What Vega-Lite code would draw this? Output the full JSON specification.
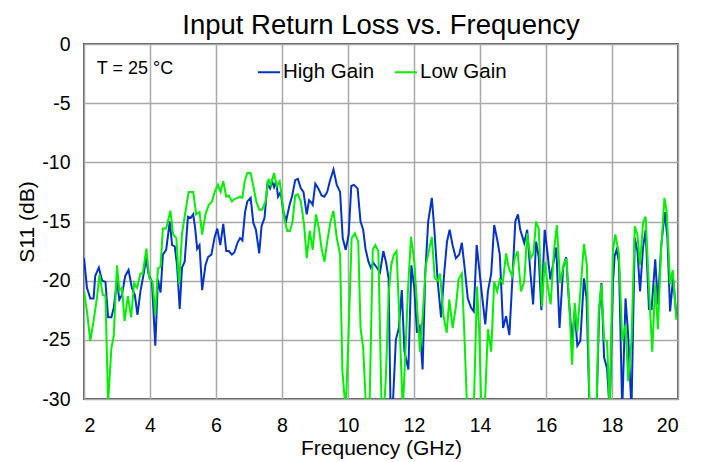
{
"$schema": "https://vega.github.io/schema/vega-lite/v6.json",
"width": 594, "height": 355,
"autosize": {"type": "none"},
"padding": {"left": 84, "top": 44, "right": 27, "bottom": 63},
"background": "white",
"title": {"text": "Input Return Loss vs. Frequency", "fontSize": 27.5, "fontWeight": "normal", "font": "Liberation Sans", "color": "black", "offset": -5},
"config": {
  "font": "Liberation Sans",
  "view": {"stroke": "#5a5a5a", "strokeWidth": 2},
  "axis": {"domain": false, "ticks": false, "labelFontSize": 19.5, "titleFontSize": 21, "titleFontWeight": "normal", "labelColor": "black", "titleColor": "black", "gridColor": "#a9a9a9", "gridWidth": 1.5, "gridOpacity": 1, "labelPadding": 14, "labelFont": "Liberation Sans", "titleFont": "Liberation Sans", "labelExpr": "'' + datum.value"}
},
"layer": [
{
"data": {"values": [
{"s":"High Gain","f":2.0,"v":-18.1},{"s":"High Gain","f":2.09,"v":-20.6},{"s":"High Gain","f":2.19,"v":-21.5},{"s":"High Gain","f":2.29,"v":-21.5},{"s":"High Gain","f":2.34,"v":-19.6},{"s":"High Gain","f":2.45,"v":-18.9},{"s":"High Gain","f":2.55,"v":-20.0},{"s":"High Gain","f":2.65,"v":-20.1},{"s":"High Gain","f":2.73,"v":-23.1},{"s":"High Gain","f":2.83,"v":-23.1},{"s":"High Gain","f":2.9,"v":-22.3},{"s":"High Gain","f":3.0,"v":-20.0},{"s":"High Gain","f":3.07,"v":-21.6},{"s":"High Gain","f":3.15,"v":-21.2},{"s":"High Gain","f":3.25,"v":-19.6},{"s":"High Gain","f":3.35,"v":-19.1},{"s":"High Gain","f":3.45,"v":-20.6},{"s":"High Gain","f":3.54,"v":-21.2},{"s":"High Gain","f":3.62,"v":-22.9},{"s":"High Gain","f":3.71,"v":-20.9},{"s":"High Gain","f":3.81,"v":-19.4},{"s":"High Gain","f":3.88,"v":-18.1},{"s":"High Gain","f":3.96,"v":-19.5},{"s":"High Gain","f":4.06,"v":-20.1},{"s":"High Gain","f":4.16,"v":-25.5},{"s":"High Gain","f":4.24,"v":-19.9},{"s":"High Gain","f":4.32,"v":-21.0},{"s":"High Gain","f":4.39,"v":-17.8},{"s":"High Gain","f":4.49,"v":-17.4},{"s":"High Gain","f":4.6,"v":-15.0},{"s":"High Gain","f":4.67,"v":-17.0},{"s":"High Gain","f":4.75,"v":-17.1},{"s":"High Gain","f":4.82,"v":-18.7},{"s":"High Gain","f":4.9,"v":-22.4},{"s":"High Gain","f":4.97,"v":-18.9},{"s":"High Gain","f":5.05,"v":-18.4},{"s":"High Gain","f":5.15,"v":-14.6},{"s":"High Gain","f":5.23,"v":-14.7},{"s":"High Gain","f":5.31,"v":-14.4},{"s":"High Gain","f":5.37,"v":-15.6},{"s":"High Gain","f":5.43,"v":-17.3},{"s":"High Gain","f":5.5,"v":-17.0},{"s":"High Gain","f":5.58,"v":-20.8},{"s":"High Gain","f":5.68,"v":-18.7},{"s":"High Gain","f":5.76,"v":-18.0},{"s":"High Gain","f":5.86,"v":-17.8},{"s":"High Gain","f":5.96,"v":-16.3},{"s":"High Gain","f":6.04,"v":-15.6},{"s":"High Gain","f":6.13,"v":-17.0},{"s":"High Gain","f":6.22,"v":-15.2},{"s":"High Gain","f":6.31,"v":-17.5},{"s":"High Gain","f":6.39,"v":-17.5},{"s":"High Gain","f":6.48,"v":-17.8},{"s":"High Gain","f":6.56,"v":-17.6},{"s":"High Gain","f":6.65,"v":-16.8},{"s":"High Gain","f":6.73,"v":-16.4},{"s":"High Gain","f":6.8,"v":-16.6},{"s":"High Gain","f":6.88,"v":-14.2},{"s":"High Gain","f":6.95,"v":-13.3},{"s":"High Gain","f":7.05,"v":-13.0},{"s":"High Gain","f":7.13,"v":-15.1},{"s":"High Gain","f":7.21,"v":-15.7},{"s":"High Gain","f":7.31,"v":-17.7},{"s":"High Gain","f":7.38,"v":-15.4},{"s":"High Gain","f":7.47,"v":-14.7},{"s":"High Gain","f":7.56,"v":-11.8},{"s":"High Gain","f":7.64,"v":-12.2},{"s":"High Gain","f":7.7,"v":-11.6},{"s":"High Gain","f":7.76,"v":-12.1},{"s":"High Gain","f":7.82,"v":-11.6},{"s":"High Gain","f":7.88,"v":-12.9},{"s":"High Gain","f":7.96,"v":-12.5},{"s":"High Gain","f":8.04,"v":-14.2},{"s":"High Gain","f":8.13,"v":-14.9},{"s":"High Gain","f":8.22,"v":-13.7},{"s":"High Gain","f":8.31,"v":-12.8},{"s":"High Gain","f":8.4,"v":-11.5},{"s":"High Gain","f":8.48,"v":-11.4},{"s":"High Gain","f":8.57,"v":-12.2},{"s":"High Gain","f":8.65,"v":-12.5},{"s":"High Gain","f":8.75,"v":-14.4},{"s":"High Gain","f":8.82,"v":-13.2},{"s":"High Gain","f":8.89,"v":-13.4},{"s":"High Gain","f":8.93,"v":-13.6},{"s":"High Gain","f":9.01,"v":-11.8},{"s":"High Gain","f":9.1,"v":-12.2},{"s":"High Gain","f":9.2,"v":-12.8},{"s":"High Gain","f":9.28,"v":-12.9},{"s":"High Gain","f":9.37,"v":-12.5},{"s":"High Gain","f":9.45,"v":-11.6},{"s":"High Gain","f":9.56,"v":-10.6},{"s":"High Gain","f":9.66,"v":-11.9},{"s":"High Gain","f":9.76,"v":-12.5},{"s":"High Gain","f":9.84,"v":-16.4},{"s":"High Gain","f":9.93,"v":-17.4},{"s":"High Gain","f":10.02,"v":-16.1},{"s":"High Gain","f":10.1,"v":-12.0},{"s":"High Gain","f":10.18,"v":-11.9},{"s":"High Gain","f":10.29,"v":-12.2},{"s":"High Gain","f":10.38,"v":-15.0},{"s":"High Gain","f":10.46,"v":-15.7},{"s":"High Gain","f":10.53,"v":-17.3},{"s":"High Gain","f":10.62,"v":-18.4},{"s":"High Gain","f":10.69,"v":-18.9},{"s":"High Gain","f":10.77,"v":-18.5},{"s":"High Gain","f":10.85,"v":-18.8},{"s":"High Gain","f":10.97,"v":-19.3},{"s":"High Gain","f":11.07,"v":-17.5},{"s":"High Gain","f":11.15,"v":-18.4},{"s":"High Gain","f":11.23,"v":-19.8},{"s":"High Gain","f":11.29,"v":-31},{"s":"High Gain","f":11.35,"v":-31},{"s":"High Gain","f":11.45,"v":-25.0},{"s":"High Gain","f":11.54,"v":-24.0},{"s":"High Gain","f":11.63,"v":-20.8},{"s":"High Gain","f":11.71,"v":-26.0},{"s":"High Gain","f":11.83,"v":-27.5},{"s":"High Gain","f":11.92,"v":-18.7},{"s":"High Gain","f":12.01,"v":-20.6},{"s":"High Gain","f":12.09,"v":-24.4},{"s":"High Gain","f":12.17,"v":-23.7},{"s":"High Gain","f":12.26,"v":-27.5},{"s":"High Gain","f":12.34,"v":-19.5},{"s":"High Gain","f":12.43,"v":-15.0},{"s":"High Gain","f":12.54,"v":-13.0},{"s":"High Gain","f":12.62,"v":-15.8},{"s":"High Gain","f":12.72,"v":-20.1},{"s":"High Gain","f":12.82,"v":-23.1},{"s":"High Gain","f":12.92,"v":-19.2},{"s":"High Gain","f":13.0,"v":-16.7},{"s":"High Gain","f":13.08,"v":-15.7},{"s":"High Gain","f":13.17,"v":-17.0},{"s":"High Gain","f":13.27,"v":-18.1},{"s":"High Gain","f":13.37,"v":-17.8},{"s":"High Gain","f":13.45,"v":-16.8},{"s":"High Gain","f":13.53,"v":-18.8},{"s":"High Gain","f":13.63,"v":-21.5},{"s":"High Gain","f":13.73,"v":-22.3},{"s":"High Gain","f":13.81,"v":-22.6},{"s":"High Gain","f":13.9,"v":-17.0},{"s":"High Gain","f":13.98,"v":-19.1},{"s":"High Gain","f":14.06,"v":-21.2},{"s":"High Gain","f":14.16,"v":-23.7},{"s":"High Gain","f":14.24,"v":-20.9},{"s":"High Gain","f":14.34,"v":-19.4},{"s":"High Gain","f":14.43,"v":-15.3},{"s":"High Gain","f":14.52,"v":-16.5},{"s":"High Gain","f":14.6,"v":-17.8},{"s":"High Gain","f":14.7,"v":-24.0},{"s":"High Gain","f":14.79,"v":-23.0},{"s":"High Gain","f":14.89,"v":-24.6},{"s":"High Gain","f":14.99,"v":-19.4},{"s":"High Gain","f":15.07,"v":-15.0},{"s":"High Gain","f":15.15,"v":-14.4},{"s":"High Gain","f":15.22,"v":-15.7},{"s":"High Gain","f":15.34,"v":-16.8},{"s":"High Gain","f":15.43,"v":-15.7},{"s":"High Gain","f":15.52,"v":-19.1},{"s":"High Gain","f":15.61,"v":-22.0},{"s":"High Gain","f":15.7,"v":-16.7},{"s":"High Gain","f":15.78,"v":-18.0},{"s":"High Gain","f":15.86,"v":-22.5},{"s":"High Gain","f":15.96,"v":-15.7},{"s":"High Gain","f":16.04,"v":-17.5},{"s":"High Gain","f":16.13,"v":-19.9},{"s":"High Gain","f":16.21,"v":-18.7},{"s":"High Gain","f":16.31,"v":-17.2},{"s":"High Gain","f":16.41,"v":-24.0},{"s":"High Gain","f":16.52,"v":-18.9},{"s":"High Gain","f":16.61,"v":-18.0},{"s":"High Gain","f":16.69,"v":-21.5},{"s":"High Gain","f":16.79,"v":-25.1},{"s":"High Gain","f":16.87,"v":-22.6},{"s":"High Gain","f":16.95,"v":-25.5},{"s":"High Gain","f":17.04,"v":-25.1},{"s":"High Gain","f":17.15,"v":-19.8},{"s":"High Gain","f":17.23,"v":-21.5},{"s":"High Gain","f":17.32,"v":-31},{"s":"High Gain","f":17.42,"v":-31},{"s":"High Gain","f":17.53,"v":-31},{"s":"High Gain","f":17.61,"v":-22.6},{"s":"High Gain","f":17.68,"v":-20.2},{"s":"High Gain","f":17.76,"v":-26.5},{"s":"High Gain","f":17.85,"v":-27.4},{"s":"High Gain","f":17.93,"v":-31},{"s":"High Gain","f":18.03,"v":-20.1},{"s":"High Gain","f":18.08,"v":-17.9},{"s":"High Gain","f":18.14,"v":-17.4},{"s":"High Gain","f":18.21,"v":-18.4},{"s":"High Gain","f":18.31,"v":-31},{"s":"High Gain","f":18.41,"v":-21.5},{"s":"High Gain","f":18.49,"v":-24.6},{"s":"High Gain","f":18.59,"v":-31},{"s":"High Gain","f":18.69,"v":-16.4},{"s":"High Gain","f":18.77,"v":-17.5},{"s":"High Gain","f":18.85,"v":-20.9},{"s":"High Gain","f":18.94,"v":-17.2},{"s":"High Gain","f":19.02,"v":-15.7},{"s":"High Gain","f":19.12,"v":-22.4},{"s":"High Gain","f":19.2,"v":-22.4},{"s":"High Gain","f":19.31,"v":-18.2},{"s":"High Gain","f":19.39,"v":-22.0},{"s":"High Gain","f":19.49,"v":-17.1},{"s":"High Gain","f":19.6,"v":-14.2},{"s":"High Gain","f":19.68,"v":-16.4},{"s":"High Gain","f":19.76,"v":-22.6},{"s":"High Gain","f":19.85,"v":-19.8},{"s":"High Gain","f":19.95,"v":-22.9},
{"s":"Low Gain","f":2.0,"v":-20.9},{"s":"Low Gain","f":2.09,"v":-22.6},{"s":"Low Gain","f":2.19,"v":-25.1},{"s":"Low Gain","f":2.29,"v":-23.4},{"s":"Low Gain","f":2.39,"v":-21.5},{"s":"Low Gain","f":2.47,"v":-19.5},{"s":"Low Gain","f":2.57,"v":-21.2},{"s":"Low Gain","f":2.65,"v":-21.3},{"s":"Low Gain","f":2.73,"v":-30.3},{"s":"Low Gain","f":2.83,"v":-25.7},{"s":"Low Gain","f":2.9,"v":-24.7},{"s":"Low Gain","f":3.0,"v":-18.7},{"s":"Low Gain","f":3.07,"v":-20.8},{"s":"Low Gain","f":3.15,"v":-20.6},{"s":"Low Gain","f":3.23,"v":-23.4},{"s":"Low Gain","f":3.33,"v":-21.3},{"s":"Low Gain","f":3.43,"v":-23.1},{"s":"Low Gain","f":3.52,"v":-20.2},{"s":"Low Gain","f":3.61,"v":-20.6},{"s":"Low Gain","f":3.71,"v":-19.4},{"s":"Low Gain","f":3.78,"v":-19.4},{"s":"Low Gain","f":3.89,"v":-17.3},{"s":"Low Gain","f":3.98,"v":-19.8},{"s":"Low Gain","f":4.08,"v":-20.1},{"s":"Low Gain","f":4.16,"v":-22.9},{"s":"Low Gain","f":4.24,"v":-19.0},{"s":"Low Gain","f":4.32,"v":-18.8},{"s":"Low Gain","f":4.39,"v":-15.6},{"s":"Low Gain","f":4.49,"v":-15.6},{"s":"Low Gain","f":4.62,"v":-14.1},{"s":"Low Gain","f":4.7,"v":-16.1},{"s":"Low Gain","f":4.8,"v":-16.4},{"s":"Low Gain","f":4.88,"v":-20.3},{"s":"Low Gain","f":4.97,"v":-16.0},{"s":"Low Gain","f":5.05,"v":-14.6},{"s":"Low Gain","f":5.17,"v":-12.5},{"s":"Low Gain","f":5.25,"v":-12.5},{"s":"Low Gain","f":5.31,"v":-12.5},{"s":"Low Gain","f":5.4,"v":-14.4},{"s":"Low Gain","f":5.5,"v":-14.2},{"s":"Low Gain","f":5.58,"v":-16.1},{"s":"Low Gain","f":5.68,"v":-14.4},{"s":"Low Gain","f":5.78,"v":-13.6},{"s":"Low Gain","f":5.88,"v":-13.3},{"s":"Low Gain","f":5.96,"v":-12.5},{"s":"Low Gain","f":6.06,"v":-11.9},{"s":"Low Gain","f":6.14,"v":-12.5},{"s":"Low Gain","f":6.22,"v":-11.6},{"s":"Low Gain","f":6.31,"v":-12.9},{"s":"Low Gain","f":6.39,"v":-12.8},{"s":"Low Gain","f":6.48,"v":-13.3},{"s":"Low Gain","f":6.56,"v":-13.1},{"s":"Low Gain","f":6.65,"v":-13.0},{"s":"Low Gain","f":6.73,"v":-12.9},{"s":"Low Gain","f":6.8,"v":-13.0},{"s":"Low Gain","f":6.87,"v":-11.6},{"s":"Low Gain","f":6.95,"v":-10.9},{"s":"Low Gain","f":7.05,"v":-10.9},{"s":"Low Gain","f":7.13,"v":-12.0},{"s":"Low Gain","f":7.22,"v":-13.3},{"s":"Low Gain","f":7.31,"v":-14.0},{"s":"Low Gain","f":7.4,"v":-14.0},{"s":"Low Gain","f":7.5,"v":-13.3},{"s":"Low Gain","f":7.59,"v":-11.4},{"s":"Low Gain","f":7.66,"v":-11.9},{"s":"Low Gain","f":7.76,"v":-10.9},{"s":"Low Gain","f":7.84,"v":-12.0},{"s":"Low Gain","f":7.93,"v":-11.6},{"s":"Low Gain","f":8.01,"v":-13.3},{"s":"Low Gain","f":8.08,"v":-14.9},{"s":"Low Gain","f":8.16,"v":-15.8},{"s":"Low Gain","f":8.24,"v":-15.8},{"s":"Low Gain","f":8.32,"v":-15.0},{"s":"Low Gain","f":8.4,"v":-12.8},{"s":"Low Gain","f":8.48,"v":-12.7},{"s":"Low Gain","f":8.57,"v":-13.3},{"s":"Low Gain","f":8.67,"v":-15.3},{"s":"Low Gain","f":8.75,"v":-18.1},{"s":"Low Gain","f":8.84,"v":-15.8},{"s":"Low Gain","f":8.93,"v":-17.4},{"s":"Low Gain","f":9.03,"v":-14.4},{"s":"Low Gain","f":9.12,"v":-15.6},{"s":"Low Gain","f":9.2,"v":-17.3},{"s":"Low Gain","f":9.29,"v":-18.4},{"s":"Low Gain","f":9.37,"v":-16.7},{"s":"Low Gain","f":9.47,"v":-15.0},{"s":"Low Gain","f":9.56,"v":-14.1},{"s":"Low Gain","f":9.66,"v":-16.4},{"s":"Low Gain","f":9.76,"v":-17.8},{"s":"Low Gain","f":9.83,"v":-27.6},{"s":"Low Gain","f":9.93,"v":-31},{"s":"Low Gain","f":10.01,"v":-25.1},{"s":"Low Gain","f":10.11,"v":-16.4},{"s":"Low Gain","f":10.21,"v":-16.0},{"s":"Low Gain","f":10.31,"v":-16.7},{"s":"Low Gain","f":10.38,"v":-24.0},{"s":"Low Gain","f":10.46,"v":-25.7},{"s":"Low Gain","f":10.55,"v":-31},{"s":"Low Gain","f":10.65,"v":-31},{"s":"Low Gain","f":10.75,"v":-17.4},{"s":"Low Gain","f":10.83,"v":-17.0},{"s":"Low Gain","f":10.92,"v":-17.5},{"s":"Low Gain","f":11.02,"v":-31},{"s":"Low Gain","f":11.09,"v":-31},{"s":"Low Gain","f":11.15,"v":-28.0},{"s":"Low Gain","f":11.23,"v":-21.2},{"s":"Low Gain","f":11.31,"v":-18.7},{"s":"Low Gain","f":11.39,"v":-17.8},{"s":"Low Gain","f":11.47,"v":-17.5},{"s":"Low Gain","f":11.56,"v":-23.4},{"s":"Low Gain","f":11.66,"v":-31},{"s":"Low Gain","f":11.74,"v":-26.0},{"s":"Low Gain","f":11.82,"v":-20.6},{"s":"Low Gain","f":11.91,"v":-16.3},{"s":"Low Gain","f":12.01,"v":-18.4},{"s":"Low Gain","f":12.09,"v":-22.0},{"s":"Low Gain","f":12.18,"v":-26.0},{"s":"Low Gain","f":12.26,"v":-23.1},{"s":"Low Gain","f":12.36,"v":-18.7},{"s":"Low Gain","f":12.45,"v":-17.5},{"s":"Low Gain","f":12.54,"v":-16.3},{"s":"Low Gain","f":12.63,"v":-19.8},{"s":"Low Gain","f":12.72,"v":-20.0},{"s":"Low Gain","f":12.79,"v":-19.4},{"s":"Low Gain","f":12.89,"v":-22.9},{"s":"Low Gain","f":12.99,"v":-24.4},{"s":"Low Gain","f":13.07,"v":-21.6},{"s":"Low Gain","f":13.17,"v":-24.0},{"s":"Low Gain","f":13.27,"v":-22.2},{"s":"Low Gain","f":13.35,"v":-19.9},{"s":"Low Gain","f":13.45,"v":-19.4},{"s":"Low Gain","f":13.53,"v":-24.8},{"s":"Low Gain","f":13.61,"v":-31},{"s":"Low Gain","f":13.71,"v":-31},{"s":"Low Gain","f":13.81,"v":-31},{"s":"Low Gain","f":13.91,"v":-20.5},{"s":"Low Gain","f":13.98,"v":-24.6},{"s":"Low Gain","f":14.04,"v":-31},{"s":"Low Gain","f":14.14,"v":-31},{"s":"Low Gain","f":14.24,"v":-24.1},{"s":"Low Gain","f":14.34,"v":-26.0},{"s":"Low Gain","f":14.43,"v":-20.1},{"s":"Low Gain","f":14.52,"v":-20.9},{"s":"Low Gain","f":14.6,"v":-19.9},{"s":"Low Gain","f":14.69,"v":-20.2},{"s":"Low Gain","f":14.79,"v":-17.7},{"s":"Low Gain","f":14.87,"v":-18.9},{"s":"Low Gain","f":14.97,"v":-19.6},{"s":"Low Gain","f":15.05,"v":-18.1},{"s":"Low Gain","f":15.14,"v":-17.5},{"s":"Low Gain","f":15.24,"v":-20.9},{"s":"Low Gain","f":15.34,"v":-20.1},{"s":"Low Gain","f":15.43,"v":-16.0},{"s":"Low Gain","f":15.53,"v":-18.1},{"s":"Low Gain","f":15.62,"v":-17.7},{"s":"Low Gain","f":15.7,"v":-15.0},{"s":"Low Gain","f":15.78,"v":-15.6},{"s":"Low Gain","f":15.88,"v":-22.2},{"s":"Low Gain","f":15.96,"v":-18.4},{"s":"Low Gain","f":16.06,"v":-20.6},{"s":"Low Gain","f":16.14,"v":-22.0},{"s":"Low Gain","f":16.24,"v":-17.5},{"s":"Low Gain","f":16.33,"v":-15.3},{"s":"Low Gain","f":16.43,"v":-20.2},{"s":"Low Gain","f":16.53,"v":-18.7},{"s":"Low Gain","f":16.62,"v":-18.1},{"s":"Low Gain","f":16.7,"v":-21.7},{"s":"Low Gain","f":16.79,"v":-27.1},{"s":"Low Gain","f":16.87,"v":-21.9},{"s":"Low Gain","f":16.95,"v":-24.3},{"s":"Low Gain","f":17.05,"v":-20.6},{"s":"Low Gain","f":17.15,"v":-16.9},{"s":"Low Gain","f":17.24,"v":-18.7},{"s":"Low Gain","f":17.32,"v":-31},{"s":"Low Gain","f":17.42,"v":-31},{"s":"Low Gain","f":17.53,"v":-31},{"s":"Low Gain","f":17.6,"v":-22.6},{"s":"Low Gain","f":17.68,"v":-20.3},{"s":"Low Gain","f":17.76,"v":-25.0},{"s":"Low Gain","f":17.85,"v":-25.1},{"s":"Low Gain","f":17.93,"v":-31},{"s":"Low Gain","f":18.03,"v":-17.4},{"s":"Low Gain","f":18.1,"v":-16.1},{"s":"Low Gain","f":18.21,"v":-17.7},{"s":"Low Gain","f":18.31,"v":-25.1},{"s":"Low Gain","f":18.41,"v":-23.7},{"s":"Low Gain","f":18.49,"v":-28.5},{"s":"Low Gain","f":18.59,"v":-25.1},{"s":"Low Gain","f":18.69,"v":-15.4},{"s":"Low Gain","f":18.77,"v":-16.1},{"s":"Low Gain","f":18.85,"v":-18.7},{"s":"Low Gain","f":18.94,"v":-15.1},{"s":"Low Gain","f":19.02,"v":-14.6},{"s":"Low Gain","f":19.12,"v":-20.6},{"s":"Low Gain","f":19.22,"v":-26.0},{"s":"Low Gain","f":19.31,"v":-20.3},{"s":"Low Gain","f":19.39,"v":-24.1},{"s":"Low Gain","f":19.49,"v":-17.3},{"s":"Low Gain","f":19.59,"v":-13.0},{"s":"Low Gain","f":19.66,"v":-14.2},{"s":"Low Gain","f":19.76,"v":-20.3},{"s":"Low Gain","f":19.84,"v":-19.1},{"s":"Low Gain","f":19.95,"v":-23.3}
]},
"mark": {"type": "line", "strokeWidth": 2, "clip": true},
"encoding": {
  "x": {"field": "f", "type": "quantitative", "scale": {"domain": [2, 20], "nice": false}, "axis": {"values": [2,4,6,8,10,12,14,16,18,20], "title": "Frequency (GHz)", "titlePadding": 3, "labelPadding": 17}},
  "y": {"field": "v", "type": "quantitative", "scale": {"domain": [-30, 0], "nice": false}, "axis": {"values": [0,-5,-10,-15,-20,-25,-30], "title": "S11 (dB)", "titlePadding": 4}},
  "color": {"field": "s", "type": "nominal", "scale": {"domain": ["High Gain", "Low Gain"], "range": ["#0433c9", "#00f000"]},
    "legend": {"title": null, "orient": "none", "legendX": 173, "legendY": 16, "direction": "horizontal", "symbolType": "stroke", "symbolSize": 484, "symbolStrokeWidth": 2, "labelFontSize": 20.5, "labelColor": "black", "labelOffset": 2, "columnPadding": 16, "labelFont": "Liberation Sans", "labelLimit": 300}}
}
},
{
"data": {"values": [{"t": "T = 25 °C", "f": 2.39, "v": -2.14}]},
"mark": {"type": "text", "align": "left", "baseline": "middle", "fontSize": 18, "font": "Liberation Sans", "color": "black"},
"encoding": {
  "x": {"field": "f", "type": "quantitative"},
  "y": {"field": "v", "type": "quantitative"},
  "text": {"field": "t"}
}
}
]
}
